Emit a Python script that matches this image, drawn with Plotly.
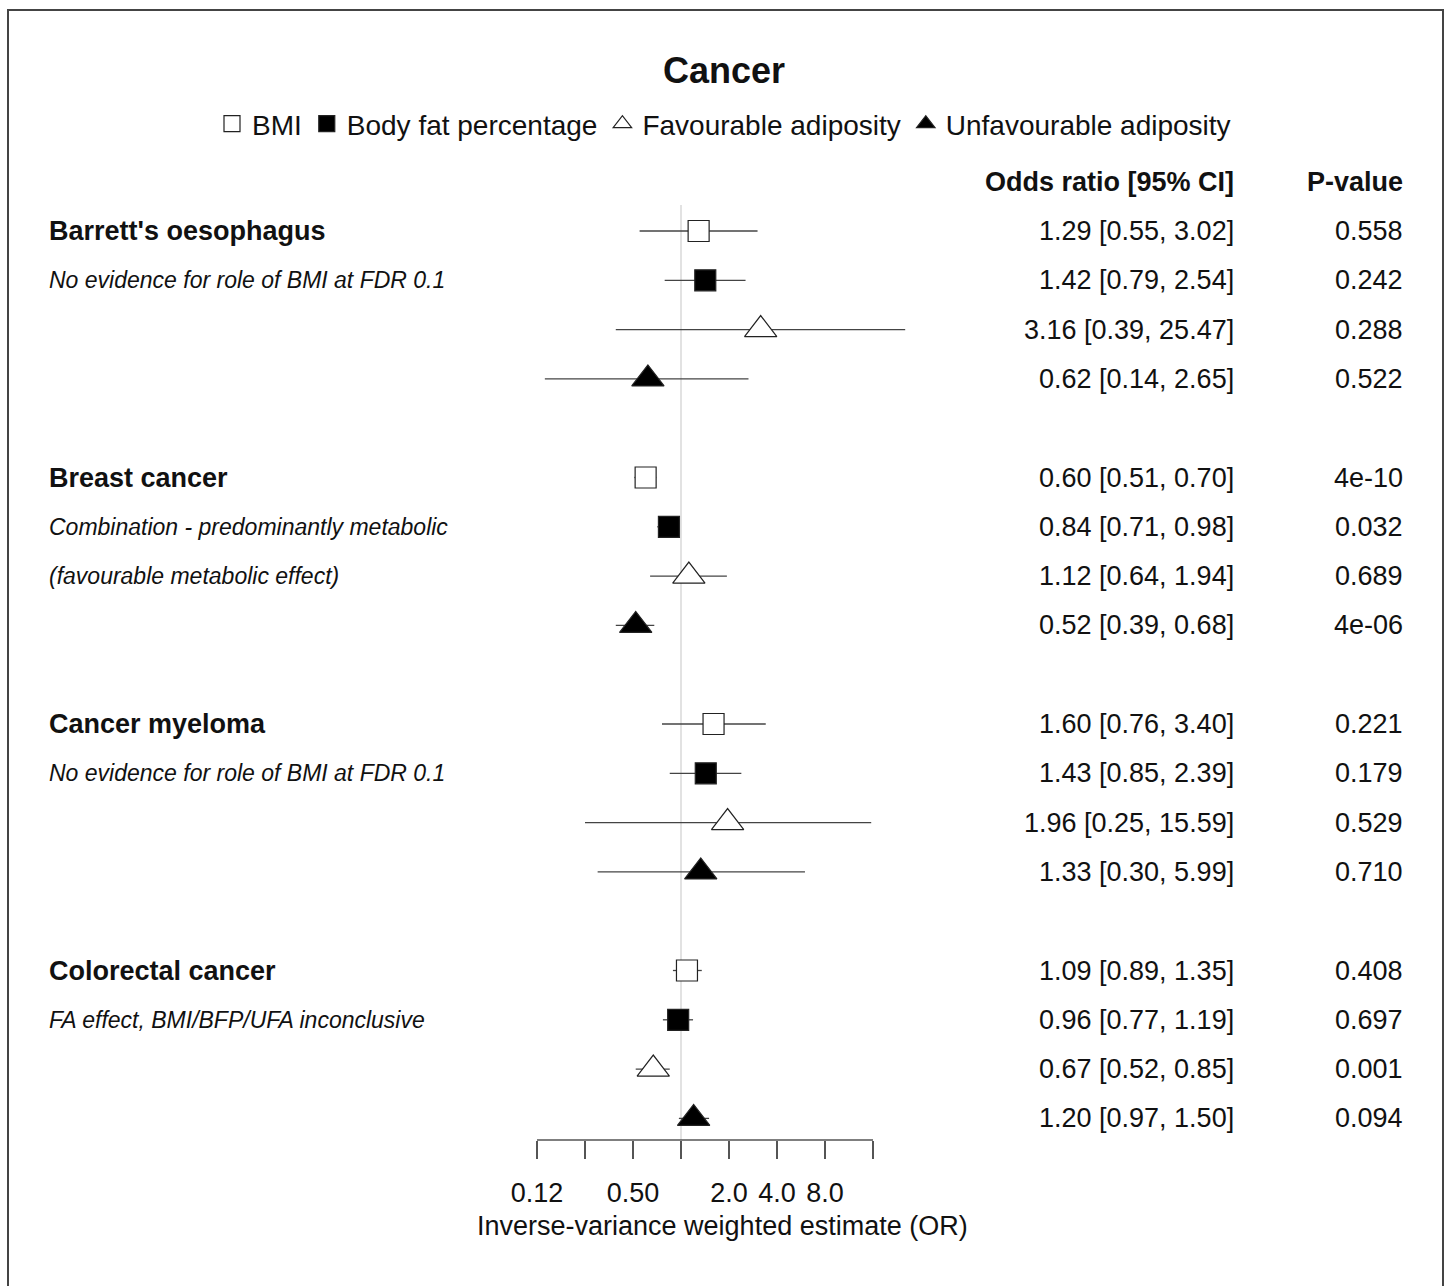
import math
import plotly.graph_objects as go

chart_title = "Cancer"
exposures = ["BMI", "Body fat percentage", "Favourable adiposity", "Unfavourable adiposity"]
outcomes = ["Barrett's oesophagus", "Breast cancer", "Cancer myeloma", "Colorectal cancer"]
notes = [
    ["No evidence for role of BMI at FDR 0.1"],
    ["Combination - predominantly metabolic", "(favourable metabolic effect)"],
    ["No evidence for role of BMI at FDR 0.1"],
    ["FA effect, BMI/BFP/UFA inconclusive"],
]

# one row per outcome, one column per exposure
odds_ratio = [
    [1.29, 1.42, 3.16, 0.62],
    [0.60, 0.84, 1.12, 0.52],
    [1.60, 1.43, 1.96, 1.33],
    [1.09, 0.96, 0.67, 1.20],
]
ci_low = [
    [0.55, 0.79, 0.39, 0.14],
    [0.51, 0.71, 0.64, 0.39],
    [0.76, 0.85, 0.25, 0.30],
    [0.89, 0.77, 0.52, 0.97],
]
ci_high = [
    [3.02, 2.54, 25.47, 2.65],
    [0.70, 0.98, 1.94, 0.68],
    [3.40, 2.39, 15.59, 5.99],
    [1.35, 1.19, 0.85, 1.50],
]
p_values = [
    ["0.558", "0.242", "0.288", "0.522"],
    ["4e-10", "0.032", "0.689", "4e-06"],
    ["0.221", "0.179", "0.529", "0.710"],
    ["0.408", "0.697", "0.001", "0.094"],
]
tick_vals = [0.125, 0.25, 0.5, 1, 2, 4, 8, 16]
tick_text = ["0.12", "", "0.50", "", "2.0", "4.0", "8.0", ""]

# page geometry (pixels)
W, H = 1448, 1286
ROW0, STEP = 231, 49.3
X_ONE, PX_DOUBLE = 681, 48
PLOT_L, PLOT_R = 444, 1000
AXIS_Y = 1140
FONT = "Liberation Sans, Arial, sans-serif"
FS = 27


def row_of(py):
    return (py - ROW0) / STEP


def log_of(px):
    return (px - X_ONE) / PX_DOUBLE * math.log10(2)


symbols = ["square", "square", "triangle-up", "triangle-up"]
fills = ["white", "black", "white", "black"]
sizes = [21, 21, 28, 28]

fig = go.Figure()

# confidence interval lines
ci_x, ci_y = [], []
for g in range(len(outcomes)):
    for e in range(len(exposures)):
        r = g * 5 + e
        ci_x += [ci_low[g][e], ci_high[g][e], None]
        ci_y += [r, r, None]
fig.add_trace(go.Scatter(x=ci_x, y=ci_y, mode="lines", line=dict(color="#444", width=1.3),
                         showlegend=False, hoverinfo="skip"))

for e, name in enumerate(exposures):
    fig.add_trace(go.Scatter(
        x=[odds_ratio[g][e] for g in range(len(outcomes))],
        y=[g * 5 + e for g in range(len(outcomes))],
        mode="markers",
        name=name,
        marker=dict(symbol=symbols[e], size=sizes[e], color=fills[e],
                    line=dict(color="#222", width=1.2)),
    ))

ann = []
for g, out in enumerate(outcomes):
    ann.append(dict(x=47 / W, y=g * 5, text="<b>" + out + "</b>", xanchor="left",
                    font=dict(size=FS)))
    for k, note in enumerate(notes[g]):
        ann.append(dict(x=47 / W, y=g * 5 + 1 + k, text="<i>" + note + "</i>", xanchor="left",
                        font=dict(size=23)))
    for e in range(len(exposures)):
        r = g * 5 + e
        txt = f"{odds_ratio[g][e]:.2f} [{ci_low[g][e]:.2f}, {ci_high[g][e]:.2f}]"
        ann.append(dict(x=1236 / W, y=r, text=txt, xanchor="right", font=dict(size=FS)))
        ann.append(dict(x=1405 / W, y=r, text=p_values[g][e], xanchor="right", font=dict(size=FS)))

ann.append(dict(x=1236 / W, y=-1, text="<b>Odds ratio [95% CI]</b>", xanchor="right", font=dict(size=FS)))
ann.append(dict(x=1405 / W, y=-1, text="<b>P-value</b>", xanchor="right", font=dict(size=FS)))
for a in ann:
    a.update(xref="paper", yref="y", showarrow=False, yanchor="middle")
ann.append(dict(x=722 / W, y=1 - 1226 / H, xref="paper", yref="paper", showarrow=False,
                text="Inverse-variance weighted estimate (OR)",
                xanchor="center", yanchor="middle", font=dict(size=FS)))
for a in ann:
    a["font"].update(family=FONT, color="#111")

shapes = [
    # reference line at OR = 1
    dict(type="line", xref="x", yref="y", x0=1, x1=1, y0=row_of(205), y1=row_of(AXIS_Y),
         line=dict(color="#d9d9d9", width=1.5), layer="below"),
    # axis line
    dict(type="line", xref="x", yref="y domain", x0=tick_vals[0], x1=tick_vals[-1], y0=0, y1=0,
         line=dict(color="#555", width=1.5)),
    # outer frame
    dict(type="rect", xref="paper", yref="paper", x0=8 / W, x1=1443 / W, y0=-0.05, y1=1 - 10 / H,
         line=dict(color="#444", width=2)),
]

fig.update_layout(
    width=W, height=H,
    margin=dict(l=0, r=0, t=0, b=0),
    paper_bgcolor="white", plot_bgcolor="white",
    font=dict(family=FONT, color="#111"),
    title=dict(text="<b>" + chart_title + "</b>", x=0.5, xanchor="center",
               y=1 - 70 / H, yanchor="middle", font=dict(size=36)),
    legend=dict(orientation="h", x=0.5, xanchor="center", y=1 - 124 / H, yanchor="middle",
                font=dict(size=28), bgcolor="rgba(0,0,0,0)"),
    annotations=ann,
    shapes=shapes,
    xaxis=dict(type="log", domain=[PLOT_L / W, PLOT_R / W],
               range=[log_of(PLOT_L), log_of(PLOT_R)],
               tickvals=tick_vals, ticktext=tick_text,
               ticks="outside", ticklen=18, tickwidth=1.5, tickcolor="#555",
               ticklabelstandoff=11, tickfont=dict(size=FS),
               showgrid=False, zeroline=False, showline=False),
    yaxis=dict(domain=[1 - AXIS_Y / H, 1], range=[row_of(AXIS_Y), row_of(0)],
               visible=False, showgrid=False, zeroline=False),
)

fig.write_html("out.html", config={"displayModeBar": False},
               post_script="document.body.style.margin = '0';")
